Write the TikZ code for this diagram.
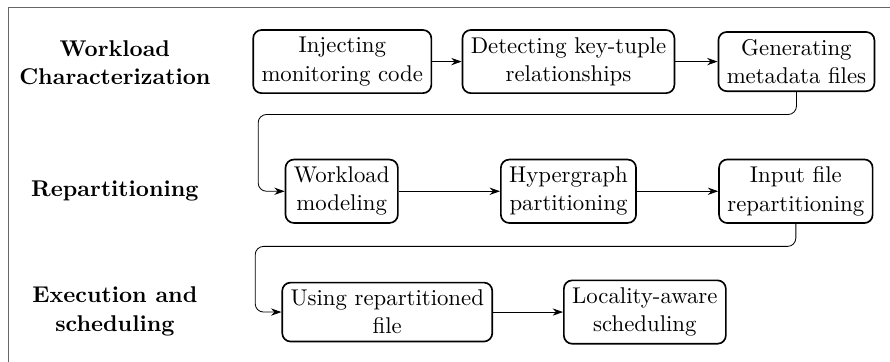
\documentclass[tikz,border=0pt,11pt]{standalone}
\usetikzlibrary{arrows.meta}
\begin{document}
\begin{tikzpicture}[>={Stealth[length=5pt,width=3.5pt]},
	stepbox/.style={draw,thick,rounded corners=4pt,align=center,inner xsep=4pt,inner ysep=3.5pt},
	phase/.style={align=center,font=\bfseries}]
			\useasboundingbox (0,0) rectangle (15.03,-6.10);
			\draw[gray!80!black] (0.135,-6.2)--(0.135,-0.12)--(15.2,-0.12);
			\node[phase] (wc) at (1.94,-1.06) {Workload\\Characterization};
			\node[phase] (rep) at (1.94,-3.22) {Repartitioning};
			\node[phase] (exe) at (1.94,-5.26) {Execution and\\scheduling};
			\node[stepbox] (inj) at (5.78,-1.04) {Injecting\\monitoring code};
			\node[stepbox] (det) at (9.60,-1.04) {Detecting key-tuple\\relationships};
			\node[stepbox] (gen) at (13.45,-1.04) {Generating\\metadata files};
			\node[stepbox] (wm) at (5.77,-3.23) {Workload\\modeling};
			\node[stepbox] (hyp) at (9.60,-3.23) {Hypergraph\\partitioning};
			\node[stepbox] (inp) at (13.44,-3.23) {Input file\\repartitioning};
			\node[stepbox] (use) at (6.54,-5.27) {Using repartitioned\\file};
			\node[stepbox] (loc) at (10.89,-5.27) {Locality-aware\\scheduling};
			\draw[->] (inj)--(det);
			\draw[->] (det)--(gen);
			\draw[->] (wm)--(hyp);
			\draw[->] (hyp)--(inp);
			\draw[->] (use)--(loc);
			\draw[->,rounded corners=4pt] (gen.south)--++(0,-0.38)-|(4.36,-2.6)|-(wm.west);
			\draw[->,rounded corners=4pt] (inp.south)--++(0,-0.38)-|(4.31,-4.6)|-(use.west);
	\end{tikzpicture}
\end{document}
